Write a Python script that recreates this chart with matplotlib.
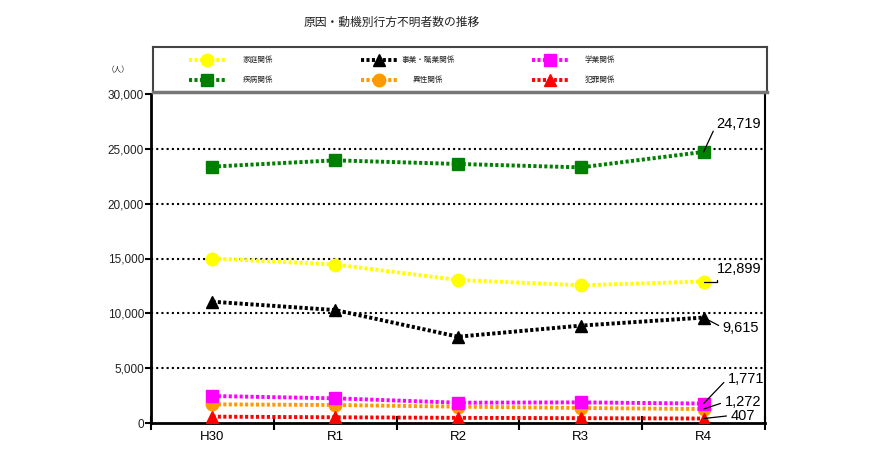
import matplotlib
matplotlib.use("Agg")
import matplotlib.pyplot as plt
from matplotlib.lines import Line2D

plt.rcParams['font.family'] = ['Noto Sans CJK JP', 'DejaVu Sans']

categories = ["H30", "R1", "R2", "R3", "R4"]
katei = [15000, 14450, 13040, 12560, 12899]
shippei = [23380, 23950, 23620, 23310, 24719]
jigyo = [11060, 10300, 7870, 8880, 9615]
igai = [1700, 1640, 1490, 1370, 1272]
gakugyo = [2460, 2250, 1850, 1880, 1771]
hanzai = [580, 520, 470, 440, 407]

series = [
    ("家庭関係", katei, "#FFFF00", "o"),
    ("疾病関係", shippei, "#008000", "s"),
    ("事業・職業関係", jigyo, "#000000", "^"),
    ("異性関係", igai, "#FF9900", "o"),
    ("学業関係", gakugyo, "#FF00FF", "s"),
    ("犯罪関係", hanzai, "#FF0000", "^"),
]
LS = (0, (0.8, 0.6))

fig = plt.figure(figsize=(8.73, 4.62), dpi=100)
ax = fig.add_axes([151/873, 1-423/462, (765-151)/873, (423-94)/462])

x = list(range(len(categories)))
for yv in [5000, 10000, 15000, 20000, 25000]:
    ax.axhline(yv, color="black", lw=1.5, ls=(0, (1, 1.5)), zorder=1)

style = {}
for name, vals, col, mk in series:
    ax.plot(x, vals, color=col, lw=2.8, ls=LS,
            marker=mk, markersize=9, markerfacecolor=col,
            markeredgecolor=col, zorder=3, label=name)
    style[name] = (col, mk)

ax.set_xlim(-0.5, 4.5)
ax.set_ylim(0, 30000)
yt = [0, 5000, 10000, 15000, 20000, 25000, 30000]
ax.set_yticks(yt)
ax.set_yticklabels([f"{v:,}" for v in yt], family="Liberation Sans")
ax.set_xticks(x)
ax.set_xticklabels(categories, family="Liberation Sans")
ax.set_xticks([i - 0.5 for i in range(len(categories) + 1)], minor=True)
ax.tick_params(axis="x", which="major", length=0, labelsize=9.5, pad=6)
ax.tick_params(axis="x", which="minor", length=10, width=1.5, direction="inout")
ax.tick_params(axis="y", length=4, width=1.5, labelsize=8.5, pad=1, labelcolor="#222222")
ax.spines["top"].set_visible(False)
ax.spines["left"].set_linewidth(2)
ax.spines["bottom"].set_linewidth(2)
ax.spines["right"].set_linewidth(1.5)

# annotations at R4
ann = [
    (shippei[4], (13, 28), "24,719", "arc3"),
    (katei[4], (13, 13), "12,899", "angle,angleA=90,angleB=0,rad=0"),
    (jigyo[4], (19, -10), "9,615", "arc3"),
    (gakugyo[4], (24, 25), "1,771", "arc3"),
    (igai[4], (21, 7), "1,272", "arc3"),
    (hanzai[4], (27, 3), "407", "arc3"),
]
for v, off, txt, cs in ann:
    ax.annotate(txt, xy=(4, v), xytext=off, textcoords="offset pixels",
                fontsize=10.5, family="Liberation Sans", va="center", ha="left",
                arrowprops=dict(arrowstyle="-", color="black", lw=0.9,
                                shrinkA=1, shrinkB=0, relpos=(0, 0.5),
                                connectionstyle=cs), zorder=5)

# legend box (manual)
lax = fig.add_axes([153/873, 1-92/462, 614/873, 45/462])
lax.set_xlim(0, 614)
lax.set_ylim(45, 0)
lax.set_xticks([])
lax.set_yticks([])
for s in lax.spines.values():
    s.set_edgecolor("#444444")
    s.set_linewidth(1.5)
lax.spines["bottom"].set_edgecolor("#777777")
lax.spines["bottom"].set_linewidth(2.5)

legend_layout = [
    ("家庭関係", 54, 13, 90),
    ("事業・職業関係", 226, 13, 249),
    ("学業関係", 397, 13, 432),
    ("疾病関係", 54, 33, 90),
    ("異性関係", 226, 33, 260),
    ("犯罪関係", 397, 33, 432),
]
for name, mx, my, tx in legend_layout:
    col, mk = style[name]
    lax.plot([mx - 18, mx + 18], [my, my], color=col, lw=2.8, ls=LS)
    lax.plot([mx], [my], marker=mk, markersize=9, color=col, ls="none")
    lax.text(tx, my, name, fontsize=5.5, va="center", ha="left", color="#222222")

fig.text(392/873, 1-22/462, "原因・動機別行方不明者数の推移", ha="center", va="center",
         fontsize=8.5, color="#222222")
fig.text(118/873, 1-70/462, "（人）", ha="center", va="center", fontsize=5.5,
         color="#222222")

fig.savefig("out.png", dpi=100)
